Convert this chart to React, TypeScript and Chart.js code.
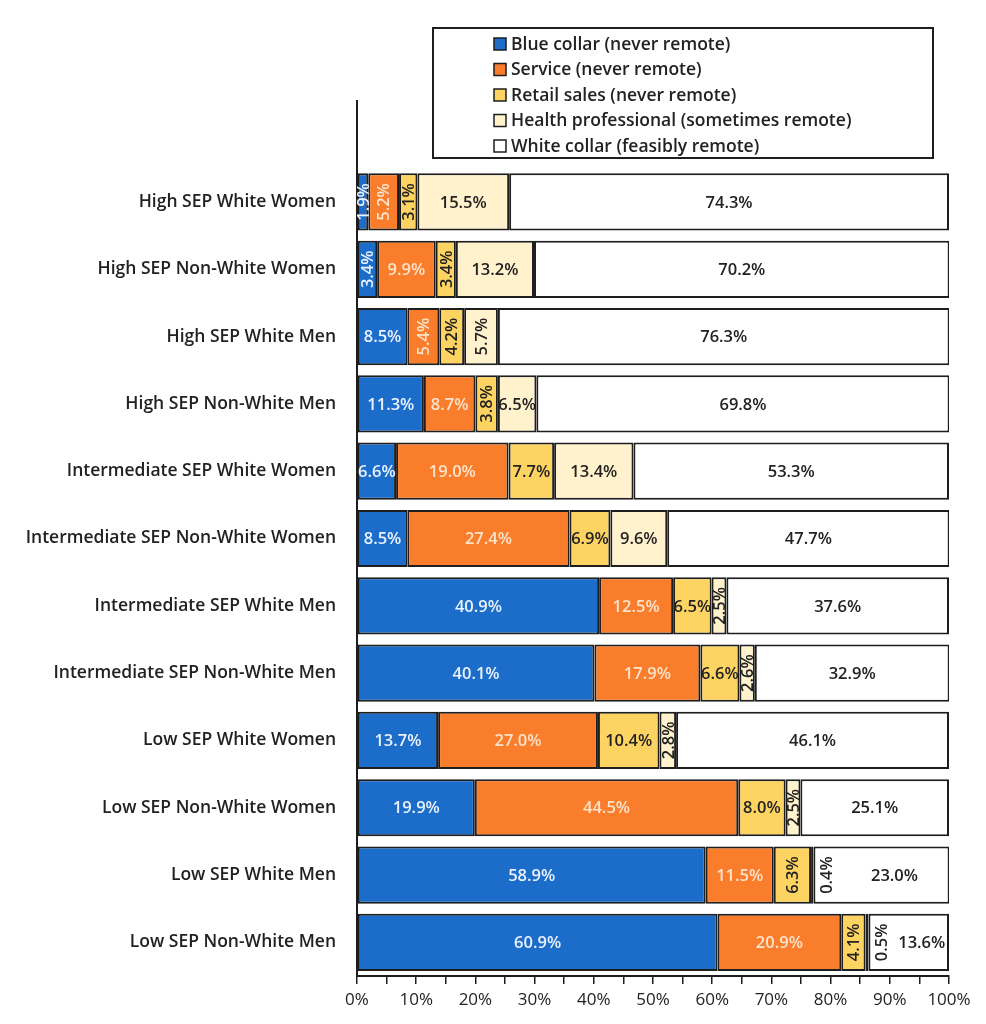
import { useEffect, useRef } from "react";
import { Chart, registerables, type ChartConfiguration, type Plugin } from "chart.js";

Chart.register(...registerables);

const categories = [
  "High SEP White Women",
  "High SEP Non-White Women",
  "High SEP White Men",
  "High SEP Non-White Men",
  "Intermediate SEP White Women",
  "Intermediate SEP Non-White Women",
  "Intermediate SEP White Men",
  "Intermediate SEP Non-White Men",
  "Low SEP White Women",
  "Low SEP Non-White Women",
  "Low SEP White Men",
  "Low SEP Non-White Men",
];

const blueCollar = [1.9, 3.4, 8.5, 11.3, 6.6, 8.5, 40.9, 40.1, 13.7, 19.9, 58.9, 60.9];
const service = [5.2, 9.9, 5.4, 8.7, 19.0, 27.4, 12.5, 17.9, 27.0, 44.5, 11.5, 20.9];
const retailSales = [3.1, 3.4, 4.2, 3.8, 7.7, 6.9, 6.5, 6.6, 10.4, 8.0, 6.3, 4.1];
const healthProfessional = [15.5, 13.2, 5.7, 6.5, 13.4, 9.6, 2.5, 2.6, 2.8, 2.5, 0.4, 0.5];
const whiteCollar = [74.3, 70.2, 76.3, 69.8, 53.3, 47.7, 37.6, 32.9, 46.1, 25.1, 23.0, 13.6];

const seriesNames = [
  "Blue collar (never remote)",
  "Service (never remote)",
  "Retail sales (never remote)",
  "Health professional (sometimes remote)",
  "White collar (feasibly remote)",
];
const seriesColors = ["#1B6DC9", "#F97D2A", "#FDD462", "#FFF2CC", "#FFFFFF"];
const labelColors = ["#EAF2FF", "#FCE3CC", "#222222", "#222222", "#222222"];

const FONT = "'Open Sans', 'Noto Sans', sans-serif";
const LINE = "#1E1E1E";

const segmentLabels: Plugin<"bar"> = {
  id: "segmentLabels",
  afterDatasetsDraw(chart) {
    const { ctx } = chart;
    ctx.save();
    ctx.font = `600 16.5px ${FONT}`;
    ctx.textAlign = "center";
    ctx.textBaseline = "middle";
    chart.data.datasets.forEach((ds, di) => {
      const meta = chart.getDatasetMeta(di);
      meta.data.forEach((el, i) => {
        const v = ds.data[i] as number | null;
        if (v == null) return;
        const p = el.getProps(["x", "base", "y"], true) as { x: number; base: number; y: number };
        const text = `${v.toFixed(1)}%`;
        ctx.fillStyle = labelColors[di];
        let cx = (p.x + p.base) / 2;
        if (v < 1) cx = p.x + 13;
        // a tiny segment's label sits just outside it, so nudge the next label over
        const prev = di > 0 ? (chart.data.datasets[di - 1].data[i] as number | null) : null;
        if (prev != null && prev < 1) cx = (p.x + p.base + 26) / 2;
        if (v < 6.4) {
          ctx.save();
          ctx.translate(cx + 1, p.y);
          ctx.rotate(-Math.PI / 2);
          ctx.fillText(text, 0, 0);
          ctx.restore();
        } else {
          ctx.fillText(text, cx, p.y + 1);
        }
      });
    });
    ctx.restore();
  },
};

const boxLegend: Plugin<"bar"> = {
  id: "boxLegend",
  afterDraw(chart) {
    const { ctx } = chart;
    ctx.save();
    ctx.fillStyle = "#FFFFFF";
    ctx.fillRect(433, 28, 500, 130);
    ctx.lineWidth = 2;
    ctx.strokeStyle = LINE;
    ctx.strokeRect(433, 28, 500, 130);
    ctx.font = `600 17.5px ${FONT}`;
    ctx.textBaseline = "middle";
    ctx.textAlign = "left";
    chart.data.datasets.forEach((ds, i) => {
      const y = 44 + i * 25.5;
      ctx.fillStyle = seriesColors[i];
      ctx.fillRect(494, y - 6, 12, 12);
      ctx.lineWidth = 1.5;
      ctx.strokeStyle = LINE;
      ctx.strokeRect(494, y - 6, 12, 12);
      ctx.fillStyle = "#222222";
      ctx.fillText(String(ds.label), 511, y + 1);
    });
    ctx.restore();
  },
};

export default function App() {
  const canvasRef = useRef<HTMLCanvasElement>(null);
  const chartRef = useRef<Chart<"bar", (number | null)[], string> | null>(null);

  useEffect(() => {
    document.body.style.margin = "0";
    const canvas = canvasRef.current;
    if (!canvas) {
      return;
    }
    if (chartRef.current) {
      chartRef.current.destroy();
    }

    const series = [blueCollar, service, retailSales, healthProfessional, whiteCollar];

    const config: ChartConfiguration<"bar", (number | null)[], string> = {
      type: "bar",
      data: {
        // blank first row leaves room for the legend box above the bars
        labels: ["", ...categories],
        datasets: series.map((values, i) => ({
          label: seriesNames[i],
          data: [null, ...values],
          backgroundColor: seriesColors[i],
          borderColor: LINE,
          borderWidth: 2,
          borderSkipped: false,
          barPercentage: 0.85,
          categoryPercentage: 1,
        })),
      },
      options: {
        indexAxis: "y",
        animation: false,
        responsive: true,
        maintainAspectRatio: false,
        layout: {
          padding: { top: 101, right: 37, left: 0, bottom: 0 },
        },
        plugins: {
          legend: { display: false },
          tooltip: { enabled: false },
        },
        scales: {
          x: {
            stacked: true,
            min: 0,
            max: 100,
            afterFit: (scale) => {
              scale.height = 48;
            },
            grid: {
              display: true,
              drawOnChartArea: false,
              drawTicks: true,
              tickLength: 8,
              color: LINE,
              lineWidth: 1.5,
            },
            border: { display: true, color: LINE, width: 2 },
            ticks: {
              stepSize: 5,
              autoSkip: false,
              maxRotation: 0,
              color: "#222222",
              padding: 6,
              font: { family: FONT, size: 17 },
              callback: (value) => (Number(value) % 10 === 0 ? `${value}%` : ""),
            },
          },
          y: {
            stacked: true,
            afterFit: (scale) => {
              scale.width = 357;
            },
            grid: { display: false },
            border: { display: true, color: LINE, width: 2 },
            ticks: {
              color: "#222222",
              padding: 13,
              font: { family: FONT, size: 17.5, weight: 600 },
            },
          },
        },
      },
      plugins: [segmentLabels, boxLegend],
    };

    chartRef.current = new Chart(canvas, config);

    return () => {
      chartRef.current?.destroy();
      chartRef.current = null;
    };
  }, []);

  return (
    <div style={{ width: 986, height: 1024, position: "relative" }}>
      <canvas ref={canvasRef} />
    </div>
  );
}
